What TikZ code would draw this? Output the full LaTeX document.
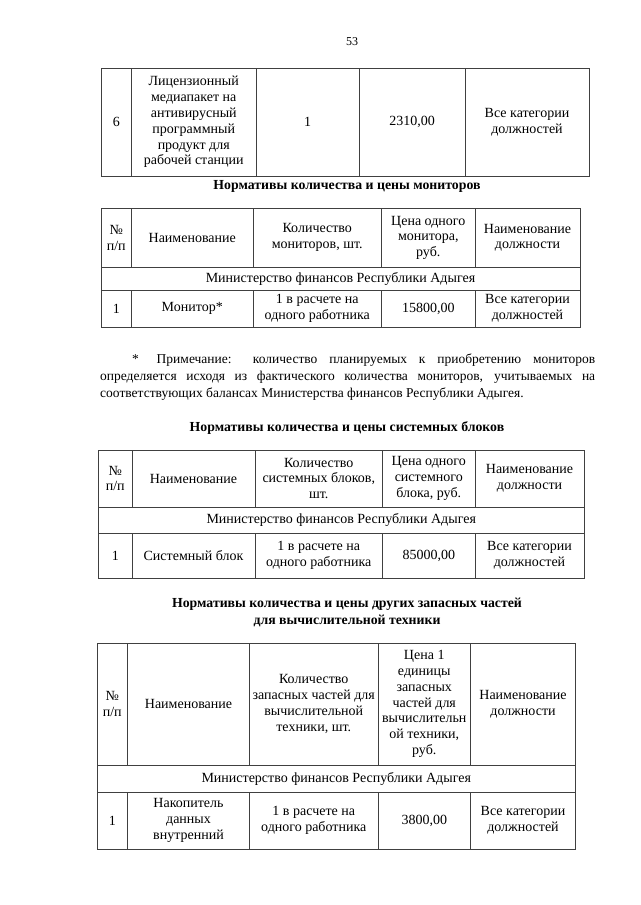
\documentclass[tikz,border=0pt]{standalone}
\usepackage{fontspec}
\setmainfont{Liberation Serif}

\begin{document}
\begin{tikzpicture}[x=1pt, y=-1pt,
    rule/.style={draw=black!75, line width=0.7pt},
    cell/.style={align=center, inner sep=0pt, font=\fontsize{14}{15.8}\selectfont},
    title/.style={align=center, inner sep=0pt, font=\bfseries\fontsize{13.8}{16.5}\selectfont},
    note line/.style={anchor=base west, inner sep=0pt, font=\fontsize{13.5}{16.5}\selectfont}]

   \useasboundingbox[fill=white] (0,0) rectangle (640,905);

   \node[inner sep=0pt, font=\fontsize{12}{14}\selectfont] (page) at (352,42) {53};

   % table 1 (end of the previous one)
   \draw[rule] (101,68) rectangle (589,176);
   \foreach \x in {131.5,256,359,465}
      \draw[rule] (\x,68) -- (\x,176);
   \node[cell] (t1a) at (116.25,122) {6};
   \node[cell] (t1b) at (193.75,122) {Лицензионный\\медиапакет на\\антивирусный\\программный\\продукт для\\рабочей станции};
   \node[cell] (t1c) at (307.5,122) {1};
   \node[cell] (t1d) at (412,122) {2310,00};
   \node[cell] (t1e) at (527,122) {Все категории\\должностей};

   \node[title] (title1) at (347,186) {Нормативы количества и цены мониторов};

   % table 2
   \draw[rule] (101,208) rectangle (580,327);
   \draw[rule] (101,267.5) -- (580,267.5);
   \draw[rule] (101,290) -- (580,290);
   \foreach \x in {131.5,253,381.5,475}{
      \draw[rule] (\x,208) -- (\x,267.5);
      \draw[rule] (\x,290) -- (\x,327);
   }
   \node[cell] (t2h1) at (116.25,237.75) {№\\п/п};
   \node[cell] (t2h2) at (192.25,237.75) {Наименование};
   \node[cell] (t2h3) at (317.25,237.75) {Количество\\мониторов, шт.};
   \node[cell] (t2h4) at (428.25,237.75) {Цена одного\\монитора,\\руб.};
   \node[cell] (t2h5) at (527.5,237.75) {Наименование\\должности};
   \node[cell] (t2m) at (340.5,278.75) {Министерство финансов Республики Адыгея};
   \node[cell] (t2r1) at (116.25,308.5) {1};
   \node[cell] (t2r2) at (192.25,308.5) {Монитор*};
   \node[cell] (t2r3) at (317.25,308.5) {1 в расчете на\\одного работника};
   \node[cell] (t2r4) at (428.25,308.5) {15800,00};
   \node[cell] (t2r5) at (527.5,308.5) {Все категории\\должностей};

   % note under table 2
   \node[note line] (note1) at (132,363) {\makebox[463pt][s]{*\hspace{6pt} Примечание: количество планируемых к приобретению мониторов}};
   \node[note line] (note2) at (100,380) {\makebox[495pt][s]{определяется исходя из фактического количества мониторов, учитываемых на}};
   \node[note line] (note3) at (100,397) {соответствующих балансах Министерства финансов Республики Адыгея.};

   \node[title] (title2) at (347,428) {Нормативы количества и цены системных блоков};

   % table 3
   \draw[rule] (98.5,450) rectangle (584,578);
   \draw[rule] (98.5,507) -- (584,507);
   \draw[rule] (98.5,533) -- (584,533);
   \foreach \x in {132,255,382.5,475}{
      \draw[rule] (\x,450) -- (\x,507);
      \draw[rule] (\x,533) -- (\x,578);
   }
   \node[cell] (t3h1) at (115.25,478.5) {№\\п/п};
   \node[cell] (t3h2) at (193.5,478.5) {Наименование};
   \node[cell] (t3h3) at (318.75,478.5) {Количество\\системных блоков,\\шт.};
   \node[cell] (t3h4) at (428.75,478.5) {Цена одного\\системного\\блока, руб.};
   \node[cell] (t3h5) at (529.5,478.5) {Наименование\\должности};
   \node[cell] (t3m) at (341.25,520) {Министерство финансов Республики Адыгея};
   \node[cell] (t3r1) at (115.25,555.5) {1};
   \node[cell] (t3r2) at (193.5,555.5) {Системный блок};
   \node[cell] (t3r3) at (318.75,555.5) {1 в расчете на\\одного работника};
   \node[cell] (t3r4) at (428.75,555.5) {85000,00};
   \node[cell] (t3r5) at (529.5,555.5) {Все категории\\должностей};

   \node[title] (title3) at (347,612.5) {Нормативы количества и цены других запасных частей\\для вычислительной техники};

   % table 4
   \draw[rule] (97,643) rectangle (575.5,849);
   \draw[rule] (97,765) -- (575.5,765);
   \draw[rule] (97,792) -- (575.5,792);
   \foreach \x in {127.5,249.5,378,470.5}{
      \draw[rule] (\x,643) -- (\x,765);
      \draw[rule] (\x,792) -- (\x,849);
   }
   \node[cell] (t4h1) at (112.25,704) {№\\п/п};
   \node[cell] (t4h2) at (188.5,704) {Наименование};
   \node[cell] (t4h3) at (313.75,704) {Количество\\запасных частей для\\вычислительной\\техники, шт.};
   \node[cell] (t4h4) at (424.25,704) {Цена 1\\единицы\\запасных\\частей для\\вычислительн\\ой техники,\\руб.};
   \node[cell] (t4h5) at (523,704) {Наименование\\должности};
   \node[cell] (t4m) at (336.25,778.5) {Министерство финансов Республики Адыгея};
   \node[cell] (t4r1) at (112.25,820.5) {1};
   \node[cell] (t4r2) at (188.5,820.5) {Накопитель\\данных\\внутренний};
   \node[cell] (t4r3) at (313.75,820.5) {1 в расчете на\\одного работника};
   \node[cell] (t4r4) at (424.25,820.5) {3800,00};
   \node[cell] (t4r5) at (523,820.5) {Все категории\\должностей};

\end{tikzpicture}
\end{document}
